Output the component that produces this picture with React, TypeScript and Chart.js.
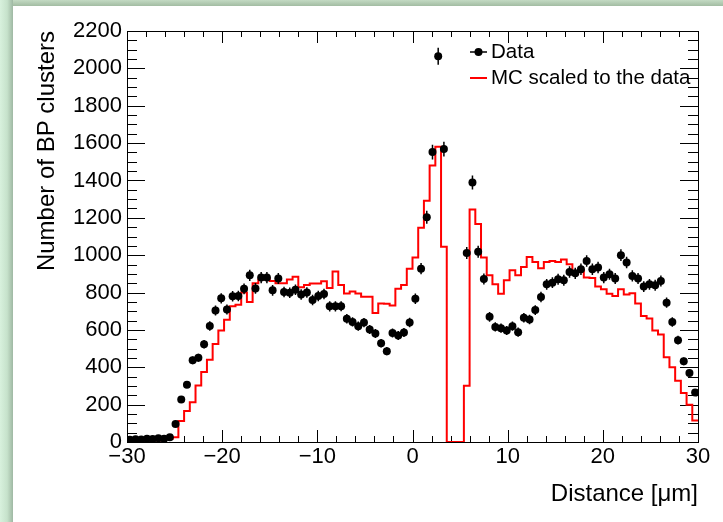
import React, { useEffect, useRef } from "react";
import { Chart, registerables } from "chart.js";

Chart.register(...registerables);

// Histogram binning: 100 bins from -30 to 30 µm
const BIN_LOW = -30;
const BIN_WIDTH = 0.6;

// Data counts per bin (null = no entry drawn)
const DATA_COUNTS: (number | null)[] = [
  12, 15, 14, 18, 16, 20, 17, 25, 96, 227,
  307, 437, 451, 523, 621, 704, 769, 709, 780, 782,
  820, 892, 822, 880, 880, 812, 875, 803, 799, 815,
  790, 800, 760, 781, 792, 726, 726, 727, 660, 643,
  620, 639, 602, 581, 529, 486, 583, 570, 586, 640,
  767, 928, 1203, 1552, 2065, 1568, null, null, null, 1012,
  1389, 1018, 873, 670, 616, 609, 597, 620, 588, 665,
  656, 706, 776, 844, 853, 871, 866, 910, 903, 925,
  969, 925, 934, 880, 898, 875, 1000, 961, 889, 875,
  832, 844, 839, 862, 746, 642, 545, 432, 369, 265,
];

// MC scaled to the data, per bin
const MC_SCALED: number[] = [
  8, 8, 8, 8, 8, 8, 18, 18, 25, 112,
  166, 213, 303, 375, 440, 525, 597, 655, 727, 735,
  800, 750, 850, 870, 875, 862, 850, 850, 870, 885,
  828, 840, 848, 848, 860, 825, 912, 840, 795, 805,
  795, 778, 778, 690, 742, 740, 730, 820, 840, 928,
  988, 1147, 1292, 1480, 1580, 1045, 0, 0, 0, 301,
  1245, 1167, 988, 892, 844, 794, 866, 919, 892, 937,
  990, 964, 930, 964, 969, 964, 977, 952, 898, 919,
  880, 878, 832, 817, 794, 781, 817, 790, 796, 742,
  674, 661, 597, 575, 453, 400, 328, 262, 199, 115,
];

const X_MIN = -30;
const X_MAX = 30;
const X_MAJOR = 10;
const X_MINOR = 2;
const Y_MIN = 0;
const Y_MAX = 2200;
const Y_MAJOR = 200;
const Y_MINOR = 50;

const X_TITLE = "Distance [\u03bcm]";
const Y_TITLE = "Number of BP clusters";
const LEGEND_DATA = "Data";
const LEGEND_MC = "MC scaled to the data";

const FONT = "'Liberation Sans', Arial, Helvetica, sans-serif";

function binCenter(i: number) {
  return BIN_LOW + BIN_WIDTH * (i + 0.5);
}

const framePlugin = {
  id: "rootFrame",
  beforeDatasetsDraw(chart: any) {
    const { ctx, chartArea: a, scales } = chart;
    const x = scales.x;
    const y = scales.y;
    ctx.save();
    ctx.strokeStyle = "#000";
    ctx.lineWidth = 1;
    ctx.strokeRect(Math.round(a.left) + 0.5, Math.round(a.top) + 0.5, Math.round(a.right - a.left), Math.round(a.bottom - a.top));
    ctx.beginPath();
    for (let v = X_MIN; v <= X_MAX + 1e-9; v += X_MINOR) {
      const px = Math.round(x.getPixelForValue(v)) + 0.5;
      const major = Math.abs(v % X_MAJOR) < 1e-9;
      const len = major ? 12 : 6;
      ctx.moveTo(px, a.bottom);
      ctx.lineTo(px, a.bottom - len);
      ctx.moveTo(px, a.top);
      ctx.lineTo(px, a.top + len);
    }
    for (let v = Y_MIN; v <= Y_MAX + 1e-9; v += Y_MINOR) {
      const py = Math.round(y.getPixelForValue(v)) + 0.5;
      const major = Math.abs(v % Y_MAJOR) < 1e-9;
      const len = major ? 18 : 10;
      ctx.moveTo(a.left, py);
      ctx.lineTo(a.left + len, py);
      ctx.moveTo(a.right, py);
      ctx.lineTo(a.right - len, py);
    }
    ctx.stroke();
    ctx.restore();
  },
  afterDatasetsDraw(chart: any) {
    const { ctx, scales } = chart;
    const x = scales.x;
    const y = scales.y;
    ctx.save();
    ctx.strokeStyle = "#000";
    ctx.lineWidth = 1.5;
    ctx.beginPath();
    DATA_COUNTS.forEach((n, i) => {
      if (n == null) return;
      const err = Math.sqrt(n);
      const px = x.getPixelForValue(binCenter(i));
      ctx.moveTo(px, y.getPixelForValue(n + err));
      ctx.lineTo(px, y.getPixelForValue(Math.max(0, n - err)));
    });
    ctx.stroke();
    ctx.restore();
  },
  afterDraw(chart: any) {
    const { ctx } = chart;
    ctx.save();
    const sx0 = 470;
    const sx1 = 487;
    const y1 = 52;
    const y2 = 78;
    // Data entry
    ctx.strokeStyle = "#000";
    ctx.lineWidth = 1.5;
    ctx.beginPath();
    ctx.moveTo(sx0, y1);
    ctx.lineTo(sx1, y1);
    ctx.stroke();
    ctx.fillStyle = "#000";
    ctx.beginPath();
    ctx.arc((sx0 + sx1) / 2, y1, 4, 0, Math.PI * 2);
    ctx.fill();
    // MC entry
    ctx.strokeStyle = "#ff0000";
    ctx.lineWidth = 2;
    ctx.beginPath();
    ctx.moveTo(sx0, y2);
    ctx.lineTo(sx1, y2);
    ctx.stroke();
    ctx.fillStyle = "#000";
    ctx.font = `20.5px ${FONT}`;
    ctx.textBaseline = "middle";
    ctx.textAlign = "left";
    ctx.fillText(LEGEND_DATA, 491, y1);
    ctx.fillText(LEGEND_MC, 491, y2);
    ctx.restore();
  },
};

function fmtTick(v: number) {
  return v < 0 ? "\u2212" + String(Math.abs(v)) : String(v);
}

export default function App() {
  const canvasRef = useRef<HTMLCanvasElement | null>(null);

  useEffect(() => {
    const canvas = canvasRef.current;
    if (!canvas) return;

    const dataPoints = DATA_COUNTS.map((n, i) => ({ x: binCenter(i), y: n })).filter((p) => p.y != null);
    const mcPoints = [
      { x: BIN_LOW, y: MC_SCALED[0] },
      ...MC_SCALED.map((v, i) => ({ x: binCenter(i), y: v })),
      { x: BIN_LOW + BIN_WIDTH * MC_SCALED.length, y: MC_SCALED[MC_SCALED.length - 1] },
    ];

    const chart = new Chart(canvas, {
      type: "scatter",
      data: {
        datasets: [
          {
            label: LEGEND_DATA,
            data: dataPoints as any,
            pointRadius: 4,
            pointBackgroundColor: "#000",
            pointBorderWidth: 0,
            showLine: false,
            order: 0,
          },
          {
            type: "line",
            label: LEGEND_MC,
            data: mcPoints as any,
            stepped: "middle",
            borderColor: "#ff0000",
            borderWidth: 2,
            pointRadius: 0,
            fill: false,
            order: 1,
          } as any,
        ],
      },
      options: {
        animation: false,
        responsive: false,
        maintainAspectRatio: false,
        devicePixelRatio: 1,
        layout: { padding: { left: 0, top: 31, right: 25, bottom: 0 } },
        plugins: {
          legend: { display: false },
          tooltip: { enabled: false },
        },
        scales: {
          x: {
            type: "linear",
            min: X_MIN,
            max: X_MAX,
            grid: { display: false, drawTicks: false },
            border: { display: false },
            ticks: {
              stepSize: X_MAJOR,
              padding: 2,
              color: "#000",
              font: { family: FONT, size: 22 },
              maxRotation: 0,
              autoSkip: false,
              callback: (v: any) => fmtTick(Number(v)),
            },
            title: {
              display: true,
              text: X_TITLE,
              align: "end",
              color: "#000",
              font: { family: FONT, size: 24 },
              padding: { top: 0, bottom: 13 },
            },
            afterFit: (s: any) => {
              s.height = 80;
            },
          },
          y: {
            type: "linear",
            min: Y_MIN,
            max: Y_MAX,
            grid: { display: false, drawTicks: false },
            border: { display: false },
            ticks: {
              stepSize: Y_MAJOR,
              padding: 5,
              color: "#000",
              font: { family: FONT, size: 22 },
              autoSkip: false,
              callback: (v: any) => fmtTick(Number(v)),
            },
            title: {
              display: true,
              text: Y_TITLE,
              align: "end",
              color: "#000",
              font: { family: FONT, size: 24 },
              padding: { top: 33, bottom: 0 },
            },
            afterFit: (s: any) => {
              s.width = 127;
            },
          },
        },
      } as any,
      plugins: [framePlugin],
    });

    return () => {
      chart.destroy();
    };
  }, []);

  return (
    <div
      style={{
        position: "absolute",
        left: 0,
        top: 0,
        width: 723,
        height: 522,
        background: "#ffffff",
        overflow: "hidden",
      }}
    >
      <div
        style={{
          position: "absolute",
          left: 0,
          top: 0,
          width: 723,
          height: 6,
          background: "linear-gradient(to bottom, #c3dac3, #a2bca2)",
        }}
      />
      <div
        style={{
          position: "absolute",
          left: 0,
          top: 0,
          width: 13,
          height: 522,
          background: "linear-gradient(to right, #d8f1dd, #c6e2cb 55%, #9fb8a3)",
        }}
      />
      <canvas
        ref={canvasRef}
        width={723}
        height={522}
        style={{ position: "absolute", left: 0, top: 0, width: 723, height: 522 }}
      />
    </div>
  );
}
